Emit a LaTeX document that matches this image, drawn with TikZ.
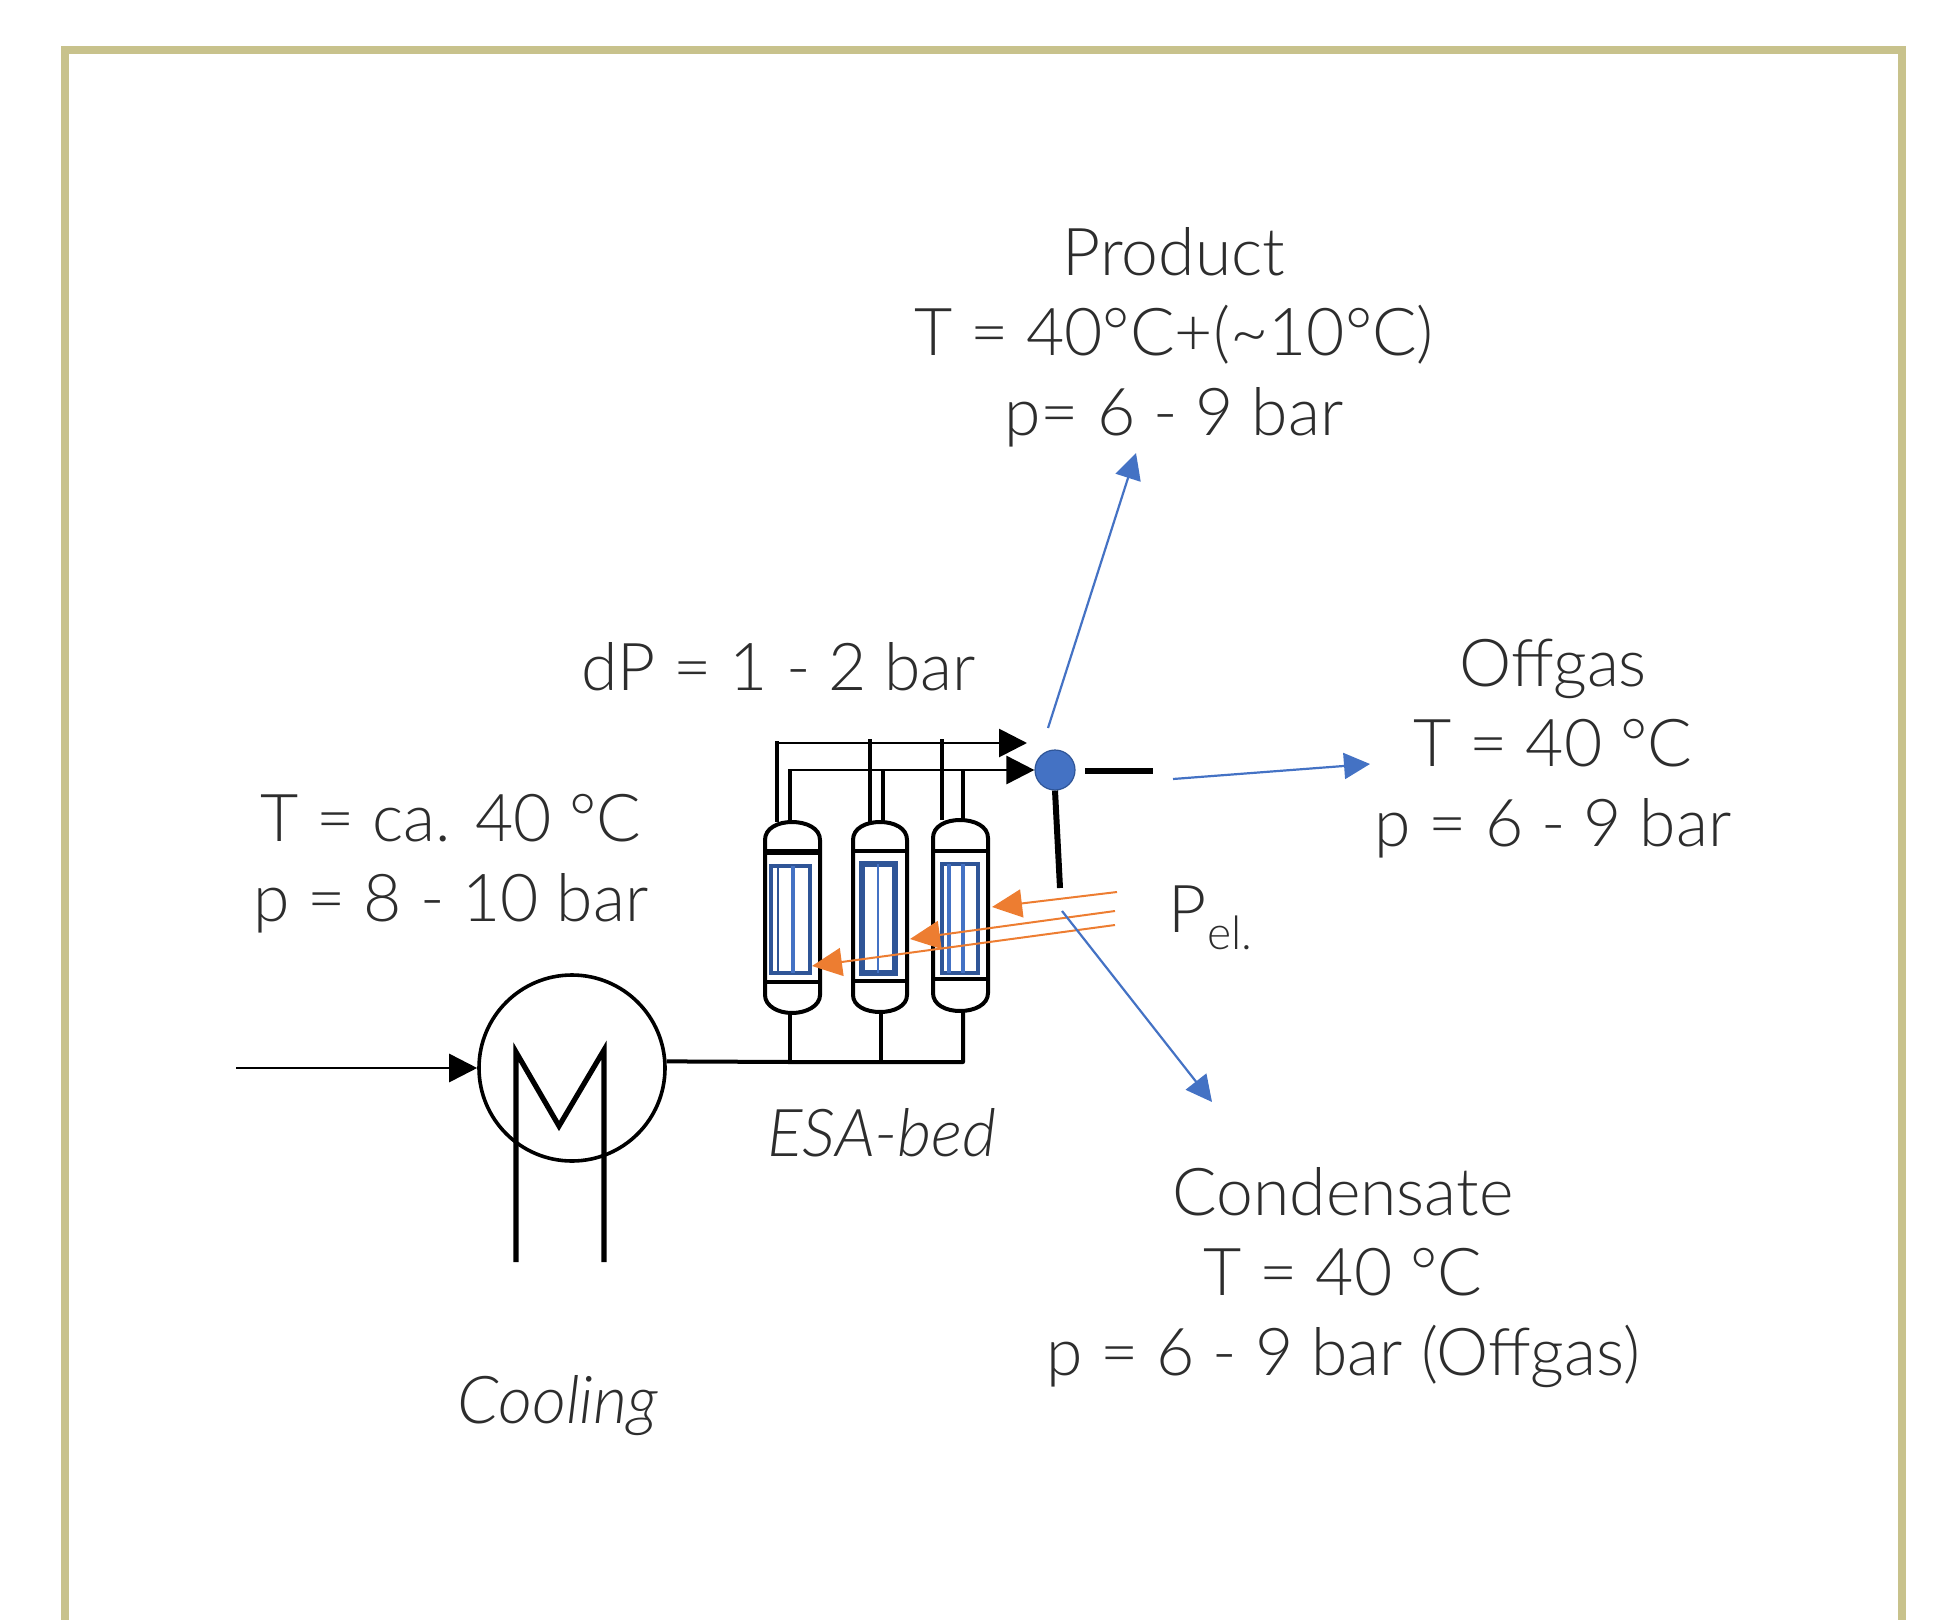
\documentclass[tikz,border=0pt]{standalone}
\usepackage{fontspec}
\setmainfont{Lato Light}
\usetikzlibrary{arrows.meta}
\tikzset{
  label text/.style={inner sep=0pt, outer sep=0pt, align=center, text=labelColor, font=\fontsize{33}{40}\selectfont},
  pipe/.style={draw=black, line width=2pt, line join=round},
  feed/.style={draw=black, line width=1.4pt, -{Triangle[length=14pt,width=14pt]}},
  stub/.style={draw=black, line width=3pt},
  stream/.style={draw=streamColor, line width=1.1pt, -{Triangle[length=13pt,width=13pt]}},
  heat/.style={draw=heatColor, line width=1pt, -{Triangle[length=15pt,width=14pt]}},
  vessel/.style={draw=black, line width=2pt, fill=white},
  packing/.style={draw=packColor, line width=2.2pt}
}
\begin{document}
\begin{tikzpicture}[x=0.5pt,y=-0.5pt]
\definecolor{frameColor}{RGB}{200,194,140}
\definecolor{streamColor}{RGB}{68,114,196}
\definecolor{packColor}{RGB}{47,85,151}
\definecolor{heatColor}{RGB}{237,125,49}
\definecolor{labelColor}{RGB}{45,45,45}
\useasboundingbox (0,0) rectangle (1936,1620);

\path[draw=frameColor,line width=4pt] (65,1620) -- (65,50) -- (1902,50) -- (1902,1620);

% vessels
\path[vessel] (765,982) -- (765,840) .. controls (765,828) and (778,822) .. (792,822) .. controls (806,822) and (820,828) .. (820,840) -- (820,995) .. controls (820,1006) and (806,1013) .. (792,1013) .. controls (778,1013) and (765,1006) .. (765,995) -- cycle;

\path[vessel] (853,982) -- (853,840) .. controls (853,828) and (866,822) .. (880,822) .. controls (894,822) and (907,828) .. (907,840) -- (907,995) .. controls (907,1006) and (894,1012) .. (880,1012) .. controls (866,1012) and (853,1006) .. (853,995) -- cycle;

\path[vessel] (933,982) -- (933,838) .. controls (933,826) and (946,820) .. (960,820) .. controls (974,820) and (988,826) .. (988,838) -- (988,993) .. controls (988,1005) and (974,1011) .. (960,1011) .. controls (946,1011) and (933,1005) .. (933,993) -- cycle;

\path[pipe,line width=3pt] (765,852) -- (820,852);
\path[pipe] (765,982) -- (820,982);
\path[pipe] (853,851) -- (907,851);
\path[pipe] (853,981) -- (907,981);
\path[pipe] (933,851) -- (988,851);
\path[pipe] (933,979) -- (988,979);

% packing
\path[packing] (771,866) rectangle (810,973);
\path[packing,line width=1.2pt] (778,866) -- (778,973);
\path[packing,draw=streamColor,line width=1.8pt] (793,866) -- (793,973);
\path[packing,line width=3pt] (862,864) rectangle (895,973);
\path[packing,draw=streamColor,line width=1.2pt] (878,864) -- (878,973);
\path[packing] (942,864) rectangle (978,973);
\path[packing,draw=streamColor,line width=1.8pt] (949,864) -- (949,973);
\path[packing,draw=streamColor,line width=1.8pt] (963,864) -- (963,973);

% motor
\node[circle,draw=black,line width=1.8pt,minimum size=93pt,inner sep=0pt] (motor) at (572,1068) {};
\path[draw=black,line width=2.6pt,line join=miter] (516,1262) -- (516,1052) -- (559,1126) -- (604,1050) -- (604,1262);

\coordinate (inlet) at (236,1068);
\path[feed] (inlet) -- (motor.west);

% collector below the vessels
\coordinate (b1) at (790,1013);
\coordinate (b2) at (881,1012);
\coordinate (b3) at (963,1011);
\coordinate (c1) at (790,1062);
\coordinate (c2) at (881,1062);
\coordinate (c3) at (963,1062);
\path[pipe] (motor.4) -- (c1) -- (c2) -- (c3) -- (b3);
\path[pipe] (b1) -- (c1);
\path[pipe] (b2) -- (c2);

% junction
\node[circle,draw=packColor,line width=0.6pt,fill=streamColor,minimum size=20pt,inner sep=0pt] (junction) at (1055,770) {};
\coordinate (stubright) at (1085,771);
\coordinate (stubend) at (1153,771);
\coordinate (stubdown) at (1060,888);
\path[stub] (stubright) -- (stubend);
\path[stub] (junction.south) -- (stubdown);

% top pipes
\coordinate (t1a) at (777,741);
\coordinate (t1b) at (777,822);
\coordinate (t2a) at (870,739);
\coordinate (t2b) at (870,822);
\coordinate (t3a) at (942,739);
\coordinate (t3b) at (942,820);
\coordinate (u1a) at (790,769);
\coordinate (u1b) at (790,822);
\coordinate (u2a) at (883,769);
\coordinate (u2b) at (883,822);
\coordinate (u3a) at (963,769);
\coordinate (u3b) at (963,820);
\path[pipe] (t1a) -- (t1b);
\path[pipe] (t2a) -- (t2b);
\path[pipe] (t3a) -- (t3b);
\path[pipe] (u1a) -- (u1b);
\path[pipe] (u2a) -- (u2b);
\path[pipe] (u3a) -- (u3b);
\coordinate (h1) at (777,743);
\coordinate (h1end) at (1027,743);
\coordinate (h2) at (790,770);
\path[feed] (h1) -- (h1end);
\path[feed] (h2) -- (junction.west);

% heating
\coordinate (e1) at (1117,892);
\coordinate (e2) at (1115,911);
\coordinate (e3) at (1115,925);
\coordinate (f1) at (992,907);
\coordinate (f2) at (910,939);
\coordinate (f3) at (812,966);
\path[heat] (e1) -- (f1);
\path[heat] (e2) -- (f2);
\path[heat] (e3) -- (f3);

% labels
\node[label text] (product) at (1174,337) {Product\\T = 40°C+(\textasciitilde10°C)\\p= 6 - 9 bar};
\node[label text] (drop) at (779,667) {dP = 1 - 2 bar};
\node[label text] (offgas) at (1553,749) {Offgas\\T = 40 °C\\p = 6 - 9 bar};
\node[label text] (feedgas) at (451,864) {T = ca. 40 °C\\p = 8 - 10 bar};
\node[label text] (condensate) at (1343,1278) {Condensate\\T = 40 °C\\p = 6 - 9 bar (Offgas)};
\node[label text,font=\fontsize{33}{40}\selectfont\itshape] (cooling) at (558,1406) {Cooling};
\node[label text,font=\fontsize{33}{40}\selectfont\itshape] (bed) at (882,1133) {ESA-bed};
\node[label text] (power) at (1211,918) {P\textsubscript{el.}};

% streams
\coordinate (s1) at (1048,728);
\coordinate (s2) at (1136,453);
\coordinate (s3) at (1173,779);
\coordinate (s4) at (1370,764);
\coordinate (s5) at (1062,911);
\coordinate (s6) at (1212,1102);
\path[stream] (s1) -- (s2);
\path[stream] (s3) -- (s4);
\path[stream] (s5) -- (s6);
\end{tikzpicture}
\end{document}
